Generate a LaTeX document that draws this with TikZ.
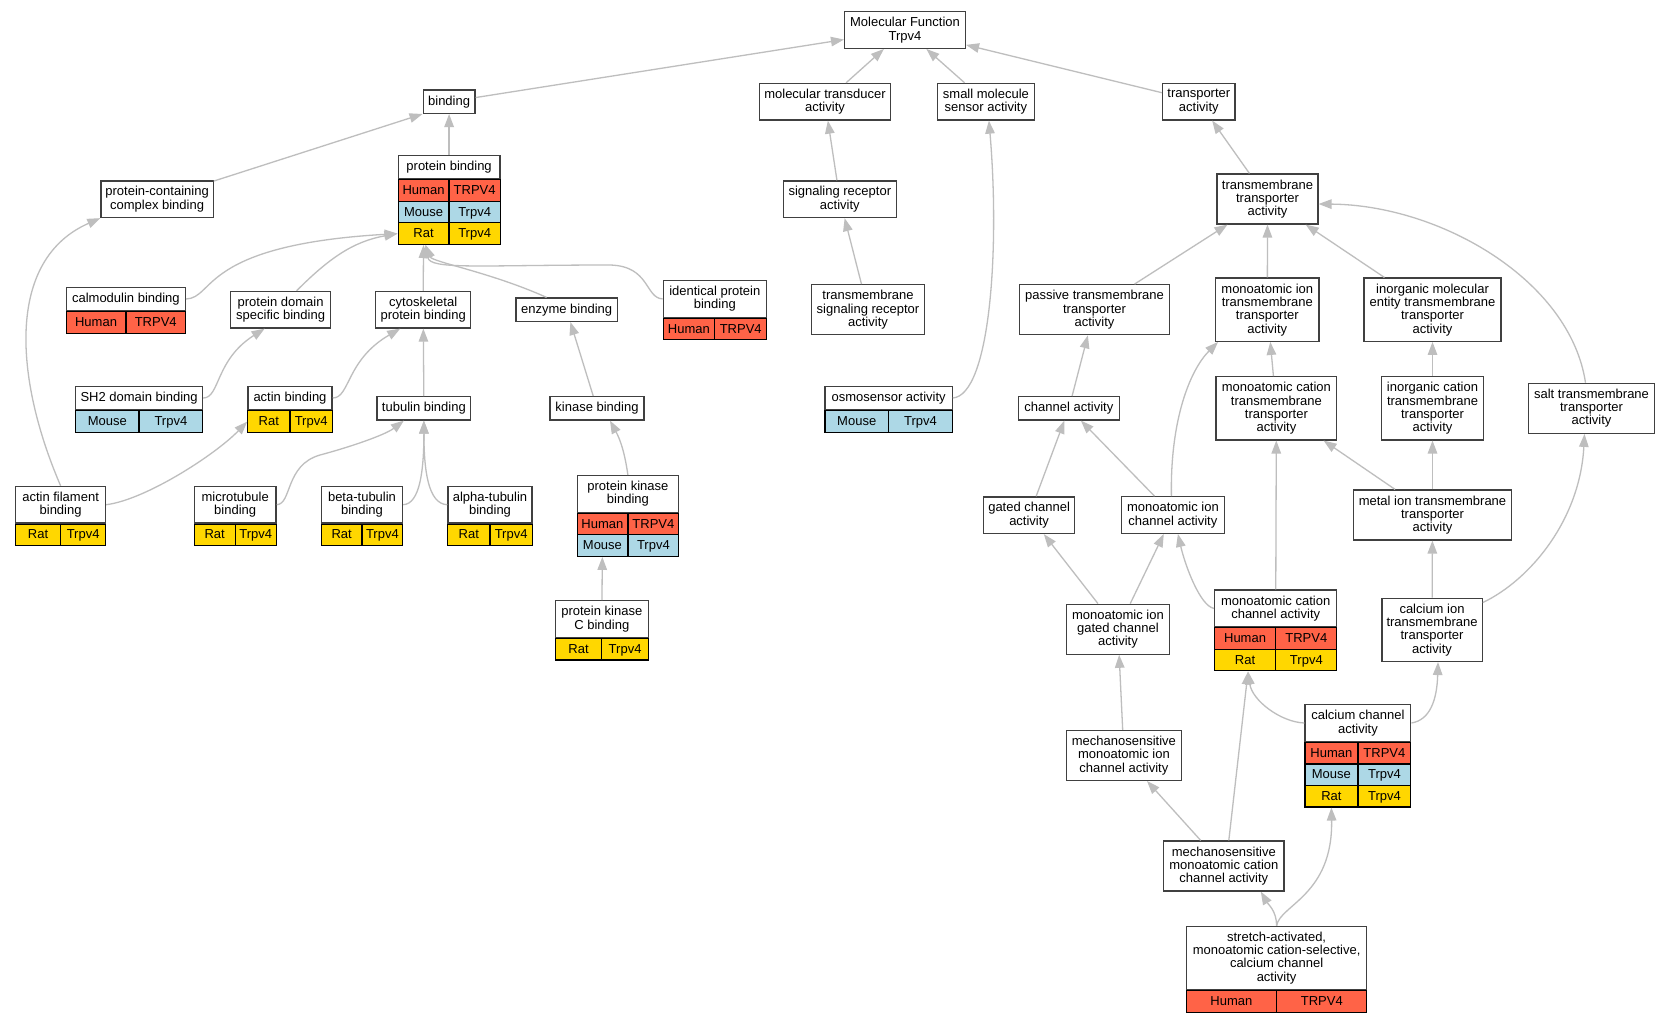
\documentclass[tikz,border=0pt]{standalone}
\usepackage{fontspec}
\setmainfont{Liberation Sans}
\usepackage{xcolor}
\usepackage{tikz}
\usetikzlibrary{arrows.meta,positioning}

\definecolor{human}{HTML}{FF6347}
\definecolor{mouse}{HTML}{ADD8E6}
\definecolor{rat}{HTML}{FFD700}
\definecolor{edgegray}{HTML}{BEBEBE}

\newcommand{\gofont}{\fontsize{13}{13.3}\selectfont}
% one species row under a term: term, row number, fill, species, gene, cell width
\newcommand{\sprow}[6]{%
  \node[cell, fill=#3, minimum width=#6, anchor=north west] (#1#2l) at ([yshift={-(#2-1)*21.5pt}]#1.south west) {#4};
  \node[cell, fill=#3, minimum width=#6, anchor=north east] (#1#2r) at ([yshift={-(#2-1)*21.5pt}]#1.south east) {#5};}

\begin{document}
\begin{tikzpicture}[
    x=1pt, y=1pt,
    term/.style={rectangle, draw=black!75, line width=1.3pt, fill=white, align=center, inner sep=1pt, font=\gofont},
    oneline/.style={minimum height=23.3pt},
    twoline/.style={minimum height=36.6pt},
    threeline/.style={minimum height=49.9pt},
    fourline/.style={minimum height=63.2pt},
    cell/.style={rectangle, draw=black, line width=1.1pt, minimum height=21.5pt, inner sep=0pt, text height=9.5pt, text depth=1.5pt, font=\gofont},
    isa/.style={draw=edgegray, line width=1.3pt, -{Triangle[length=13pt,width=9.5pt]}}
]
    \path[use as bounding box, fill=white] (0,0) rectangle (1669,-1021);

    % Root
    \node[term, twoline, minimum width=120.8pt] (mf) at (905,-30) {Molecular Function\\Trpv4};

    % Level 1
    \node[term, oneline, minimum width=51.8pt] (binding) at (449.1,-101.7) {binding};
    \node[term, twoline, minimum width=131.4pt] (transducer) at (825,-101.7) {molecular transducer\\activity};
    \node[term, twoline, minimum width=97.5pt] (smallmol) at (985.9,-101.7) {small molecule\\sensor activity};
    \node[term, twoline, minimum width=72.5pt] (transporter) at (1198.8,-101.7) {transporter\\activity};

    % Level 2
    \node[term, twoline, minimum width=112.2pt] (complex) at (157.1,-199.2) {protein-containing\\complex binding};
    \node[term, oneline, minimum width=101.8pt] (protbind) at (449.1,-167) {protein binding};
    \sprow{protbind}{1}{human}{Human}{TRPV4}{50.9pt}
    \sprow{protbind}{2}{mouse}{Mouse}{Trpv4}{50.9pt}
    \sprow{protbind}{3}{rat}{Rat}{Trpv4}{50.9pt}
    \node[term, twoline, minimum width=113.2pt] (sigrec) at (839.8,-199.2) {signaling receptor\\activity};
    \node[term, threeline, minimum width=100.8pt] (tmtrans) at (1267.5,-199) {transmembrane\\transporter\\activity};

    % Level 3
    \node[term, oneline, minimum width=119pt] (calmod) at (125.9,-299) {calmodulin binding};
    \sprow{calmod}{1}{human}{Human}{TRPV4}{59.5pt}
    \node[term, twoline, minimum width=100.3pt] (protdom) at (280.6,-309.7) {protein domain\\specific binding};
    \node[term, twoline, minimum width=95pt] (cytosk) at (423.2,-309.7) {cytoskeletal\\protein binding};
    \node[term, oneline, minimum width=101.1pt] (enzyme) at (566.6,-309.7) {enzyme binding};
    \node[term, twoline, minimum width=103.2pt] (identical) at (714.8,-298.9) {identical protein\\binding};
    \sprow{identical}{1}{human}{Human}{TRPV4}{51.6pt}
    \node[term, threeline, minimum width=112.5pt] (tmsignal) at (868,-309.7) {transmembrane\\signaling receptor\\activity};
    \node[term, threeline, minimum width=149.7pt] (passive) at (1094.5,-309.7) {passive transmembrane\\transporter\\activity};
    \node[term, fourline, minimum width=103.2pt] (ionttr) at (1267.3,-309.7) {monoatomic ion\\transmembrane\\transporter\\activity};
    \node[term, fourline, minimum width=137.1pt] (inorgmol) at (1432.5,-309.7) {inorganic molecular\\entity transmembrane\\transporter\\activity};

    % Level 4
    \node[term, oneline, minimum width=126.8pt] (sh2) at (139.1,-398) {SH2 domain binding};
    \sprow{sh2}{1}{mouse}{Mouse}{Trpv4}{63.4pt}
    \node[term, oneline, minimum width=84.2pt] (actin) at (290,-398) {actin binding};
    \sprow{actin}{1}{rat}{Rat}{Trpv4}{42.1pt}
    \node[term, oneline, minimum width=93.6pt] (tubulin) at (423.9,-408.3) {tubulin binding};
    \node[term, oneline, minimum width=93.9pt] (kinase) at (597,-408.3) {kinase binding};
    \node[term, oneline, minimum width=127.1pt] (osmo) at (888.6,-398) {osmosensor activity};
    \sprow{osmo}{1}{mouse}{Mouse}{Trpv4}{63.55pt}
    \node[term, oneline, minimum width=101.4pt] (channel) at (1068.9,-408.3) {channel activity};
    \node[term, fourline, minimum width=120.8pt] (cationttr) at (1276.4,-408.3) {monoatomic cation\\transmembrane\\transporter\\activity};
    \node[term, fourline, minimum width=102.2pt] (inorgcat) at (1432.5,-408.3) {inorganic cation\\transmembrane\\transporter\\activity};
    \node[term, threeline, minimum width=125.7pt] (salt) at (1591.5,-408.3) {salt transmembrane\\transporter\\activity};

    % Level 5
    \node[term, twoline, minimum width=89.7pt] (filament) at (60.6,-504.7) {actin filament\\binding};
    \sprow{filament}{1}{rat}{Rat}{Trpv4}{44.85pt}
    \node[term, twoline, minimum width=81.8pt] (microtub) at (235.2,-504.7) {microtubule\\binding};
    \sprow{microtub}{1}{rat}{Rat}{Trpv4}{40.9pt}
    \node[term, twoline, minimum width=81.1pt] (betatub) at (362,-504.7) {beta-tubulin\\binding};
    \sprow{betatub}{1}{rat}{Rat}{Trpv4}{40.55pt}
    \node[term, twoline, minimum width=84.2pt] (alphatub) at (490,-504.7) {alpha-tubulin\\binding};
    \sprow{alphatub}{1}{rat}{Rat}{Trpv4}{42.1pt}
    \node[term, twoline, minimum width=101.5pt] (pkb) at (627.9,-493.9) {protein kinase\\binding};
    \sprow{pkb}{1}{human}{Human}{TRPV4}{50.75pt}
    \sprow{pkb}{2}{mouse}{Mouse}{Trpv4}{50.75pt}
    \node[term, twoline, minimum width=91pt] (gated) at (1029.1,-515.2) {gated channel\\activity};
    \node[term, twoline, minimum width=102.9pt] (ionchannel) at (1172.9,-515) {monoatomic ion\\channel activity};
    \node[term, threeline, minimum width=157.8pt] (metalion) at (1432.5,-515) {metal ion transmembrane\\transporter\\activity};

    % Level 6
    \node[term, twoline, minimum width=92.8pt] (pkc) at (601.8,-619) {protein kinase\\C binding};
    \sprow{pkc}{1}{rat}{Rat}{Trpv4}{46.4pt}
    \node[term, threeline, minimum width=102.9pt] (iongated) at (1117.9,-629.2) {monoatomic ion\\gated channel\\activity};
    \node[term, twoline, minimum width=122.2pt] (cationch) at (1275.7,-608.4) {monoatomic cation\\channel activity};
    \sprow{cationch}{1}{human}{Human}{TRPV4}{61.1pt}
    \sprow{cationch}{2}{rat}{Rat}{Trpv4}{61.1pt}
    \node[term, fourline, minimum width=100.3pt] (calciumion) at (1432,-629.8) {calcium ion\\transmembrane\\transporter\\activity};

    % Level 7
    \node[term, twoline, minimum width=105.7pt] (calciumch) at (1357.9,-723) {calcium channel\\activity};
    \sprow{calciumch}{1}{human}{Human}{TRPV4}{52.85pt}
    \sprow{calciumch}{2}{mouse}{Mouse}{Trpv4}{52.85pt}
    \sprow{calciumch}{3}{rat}{Rat}{Trpv4}{52.85pt}
    \node[term, threeline, minimum width=115pt] (mechion) at (1123.9,-755.4) {mechanosensitive\\monoatomic ion\\channel activity};
    \node[term, threeline, minimum width=120.3pt] (mechcation) at (1223.8,-866) {mechanosensitive\\monoatomic cation\\channel activity};
    \node[term, fourline, minimum width=180.4pt] (stretch) at (1276.6,-957.9) {stretch-activated,\\monoatomic cation-selective,\\calcium channel\\activity};
    \sprow{stretch}{1}{human}{Human}{TRPV4}{90.2pt}

    % Connections (child to parent)
    \draw[isa] (binding) -- (mf);
    \draw[isa] (transducer) -- (mf);
    \draw[isa] (smallmol) -- (mf);
    \draw[isa] (transporter) -- (mf);
    \draw[isa] (complex) -- (binding.south west);
    \draw[isa] (protbind) -- (binding);
    \draw[isa] (sigrec) -- (transducer);
    \draw[isa] (tmsignal) -- (sigrec);
    \draw[isa] (osmo.east) .. controls (990,-395) and (1000,-250) .. ([xshift=3pt]smallmol.south);
    \draw[isa] (tmtrans) -- (transporter);
    \draw[isa] (passive) -- (tmtrans);
    \draw[isa] (ionttr) -- (tmtrans);
    \draw[isa] (inorgmol) -- (tmtrans);
    \draw[isa] ([xshift=-6pt]salt.north) .. controls (1570,-280) and (1440,-205) .. ([yshift=-5pt]tmtrans.east);

    \draw[isa] (calmod.east) .. controls (215,-298) and (200,-245) .. (protbind3l.west);
    \draw[isa] ([xshift=16pt]protdom.north) to[out=45, in=190] (protbind3l.west);
    \draw[isa] (cytosk.north) -- (protbind3l.south);
    \draw[isa] ([xshift=-20pt]enzyme.north) .. controls (490,-272) and (432,-262) .. ([xshift=2pt]protbind3l.south);
    \draw[isa] (identical.west) .. controls (645,-298) and (650,-266) .. (610,-265) .. controls (480,-265) and (430,-270) .. ([xshift=2pt]protbind3l.south);
    \draw[isa] (sh2.east) .. controls (220,-398) and (215,-360) .. ([xshift=-16pt]protdom.south);
    \draw[isa] (actin.east) .. controls (350,-398) and (346,-360) .. ([xshift=-23pt]cytosk.south);
    \draw[isa] (tubulin) -- (cytosk);
    \draw[isa] (filament.north) .. controls (15,-380) and (5,-260) .. (complex.south west);
    \draw[isa] (filament.east) .. controls (145,-500) and (215,-455) .. (actin1l.west);
    \draw[isa] (microtub.east) .. controls (292,-504) and (285,-465) .. (320,-455) .. controls (350,-447) and (385,-435) .. ([xshift=-20pt]tubulin.south);
    \draw[isa] (betatub.east) .. controls (420,-504) and (423.9,-470) .. (tubulin.south);
    \draw[isa] (alphatub.west) .. controls (428,-504) and (423.9,-470) .. (tubulin.south);
    \draw[isa] (kinase) -- (enzyme);
    \draw[isa] (pkb.north) to[bend right=10] ([xshift=13pt]kinase.south);
    \draw[isa] (pkc) -- (pkb2l);

    \draw[isa] (channel) -- (passive);
    \draw[isa] (gated) -- (channel);
    \draw[isa] (ionchannel) -- (channel);
    \draw[isa] ([xshift=-1.5pt]ionchannel.north) .. controls (1170,-420) and (1190,-370) .. ([xshift=3pt]ionttr.south west);
    \draw[isa] (iongated) -- (gated);
    \draw[isa] (iongated) -- (ionchannel);
    \draw[isa] (cationch.west) .. controls (1200,-606) and (1185,-565) .. ([xshift=5pt]ionchannel.south);
    \draw[isa] (cationch) -- (cationttr);
    \draw[isa] (cationttr) -- (ionttr);
    \draw[isa] (inorgcat) -- (inorgmol);
    \draw[isa] (metalion) -- (cationttr);
    \draw[isa] (metalion) -- (inorgcat);
    \draw[isa] (calciumion) -- (metalion);
    \draw[isa] ([yshift=-5pt]calciumion.north east) .. controls (1530,-580) and (1580,-520) .. ([xshift=-7pt]salt.south);
    \draw[isa] (calciumch.west) .. controls (1280,-722) and (1252,-700) .. ([xshift=3pt]cationch2l.south);
    \draw[isa] (calciumch.east) .. controls (1430,-720) and (1437,-700) .. ([xshift=6pt]calciumion.south);
    \draw[isa] (mechion) -- (iongated);
    \draw[isa] (mechcation) -- (mechion);
    \draw[isa] ([xshift=5pt]mechcation.north) -- ([xshift=3pt]cationch2l.south);
    \draw[isa] (stretch.north) to[out=90, in=-60] ([xshift=37pt]mechcation.south);
    \draw[isa] (stretch.north) .. controls (1280,-905) and (1333,-895) .. (calciumch3l.south);
\end{tikzpicture}
\end{document}
